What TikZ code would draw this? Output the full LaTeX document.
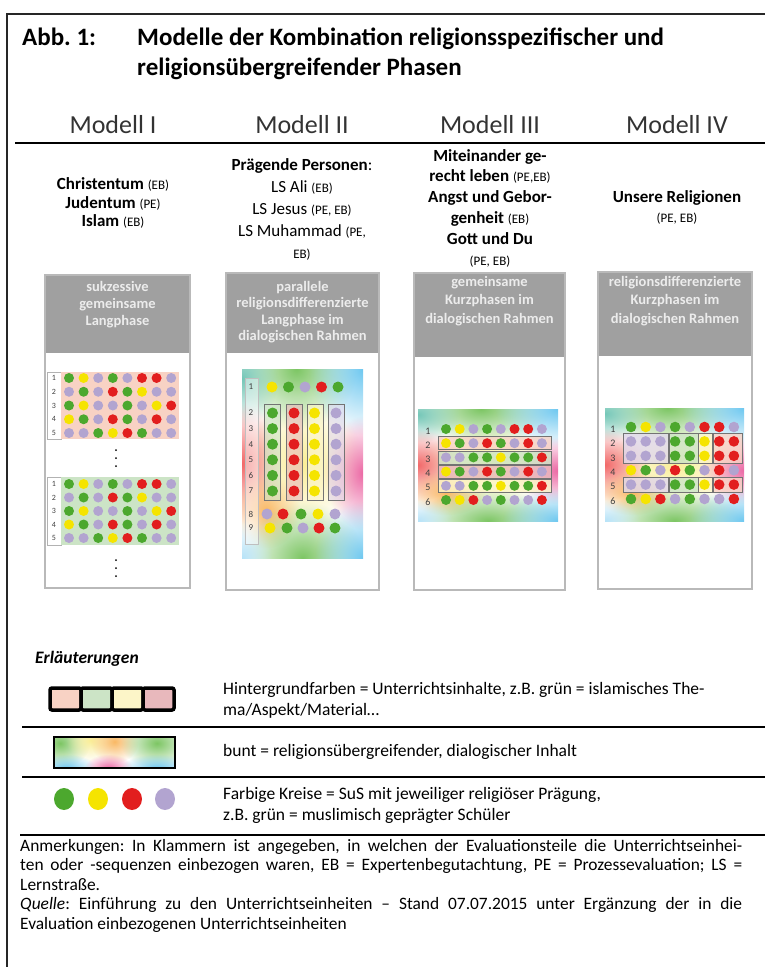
\documentclass[tikz,border=0pt]{standalone}
\usepackage{fontspec}
\setmainfont{Carlito}
\usetikzlibrary{positioning,fadings}

\definecolor{kG}{RGB}{76,168,46}
\definecolor{kY}{RGB}{245,228,0}
\definecolor{kR}{RGB}{226,30,30}
\definecolor{kP}{RGB}{178,164,208}
\definecolor{kopf}{RGB}{160,160,160}
\definecolor{kopfschrift}{RGB}{236,236,236}
\definecolor{rahmen}{RGB}{185,185,185}
\definecolor{hgrosa}{RGB}{248,210,196}
\definecolor{hggruen}{RGB}{204,228,198}
\definecolor{hggelb}{RGB}{252,245,200}
\definecolor{hgrot}{RGB}{232,184,188}
\definecolor{hglila}{RGB}{224,216,236}
\definecolor{bcyan}{RGB}{110,200,240}
\definecolor{bgreen}{RGB}{125,198,100}
\definecolor{bred}{RGB}{242,105,105}
\definecolor{bpink}{RGB}{236,105,165}
\definecolor{borange}{RGB}{250,185,100}
\definecolor{byellow}{RGB}{250,238,150}

\tikzfading[name=weich, inner color=transparent!0, outer color=transparent!100]

% Farbpunkte zeilenweise
\newcommand{\punktraster}[6]{%
  \foreach [count=\zeile] \reihe in {#6} {
    \foreach [count=\spalte] \farbe in \reihe {
      \fill[fill=k\farbe] ({#1+(\spalte-1)*#3},{#2+(\zeile-1)*#4}) circle (#5);
    }
  }%
}

% bunter Hintergrund (hochkant)
\newcommand{\buntfeld}[4]{%
  \begin{scope}
    \clip (#1,#2) rectangle (#3,#4);
    \fill[white] (#1,#2) rectangle (#3,#4);
    \pgfmathsetmacro{\bw}{#3-#1}
    \pgfmathsetmacro{\bh}{#4-#2}
    \begin{scope}[shift={(#1,#2)}, xscale=\bw, yscale=\bh]
      \fill[byellow, path fading=weich] (0.5,0.5) ellipse (0.5 and 0.35);
      \fill[bgreen, path fading=weich] (0.45,0) ellipse (0.5 and 0.32);
      \fill[bcyan, path fading=weich] (1,0) ellipse (0.45 and 0.35);
      \fill[bcyan!60!bgreen, path fading=weich] (0,0.05) ellipse (0.3 and 0.25);
      \fill[bred, path fading=weich] (0,0.5) ellipse (0.32 and 0.32);
      \fill[bpink, path fading=weich] (1,0.55) ellipse (0.32 and 0.3);
      \fill[borange, path fading=weich] (0.2,0.75) ellipse (0.28 and 0.2);
      \fill[bgreen, path fading=weich] (0.5,1) ellipse (0.5 and 0.3);
      \fill[bcyan, path fading=weich] (1,1) ellipse (0.4 and 0.3);
      \fill[bcyan!50, path fading=weich] (0,1) ellipse (0.25 and 0.2);
    \end{scope}
  \end{scope}%
}

% bunter Streifen (Legende)
\newcommand{\buntstreifen}[4]{%
  \begin{scope}
    \clip (#1,#2) rectangle (#3,#4);
    \fill[white] (#1,#2) rectangle (#3,#4);
    \pgfmathsetmacro{\bw}{#3-#1}
    \pgfmathsetmacro{\bh}{#4-#2}
    \begin{scope}[shift={(#1,#2)}, xscale=\bw, yscale=\bh]
      \fill[bgreen, path fading=weich] (0.05,0.2) ellipse (0.25 and 0.8);
      \fill[byellow, path fading=weich] (0.3,0.1) ellipse (0.2 and 0.7);
      \fill[borange, path fading=weich] (0.5,0.15) ellipse (0.2 and 0.7);
      \fill[bgreen, path fading=weich] (0.85,0.2) ellipse (0.3 and 0.8);
      \fill[bcyan, path fading=weich] (0.1,1) ellipse (0.25 and 0.45);
      \fill[bpink, path fading=weich] (0.45,1) ellipse (0.2 and 0.45);
      \fill[bcyan, path fading=weich] (0.85,1) ellipse (0.3 and 0.45);
    \end{scope}
  \end{scope}%
}

\newcommand{\klein}[1]{{\fontsize{13}{13}\selectfont\mdseries #1}}

\begin{document}
\frenchspacing
\begin{tikzpicture}[x=1pt, y=-1pt,
    titel/.style={font=\fontsize{25}{30}\selectfont\bfseries, inner sep=0, anchor=base west},
    modell/.style={font=\fontsize{26}{30}\selectfont, text=black!80, inner sep=0},
    modtext/.style={align=center, inner sep=0},
    panel/.style={draw=rahmen, line width=1.5},
    kopftext/.style={align=center, text=kopfschrift, font=\fontsize{14.5}{17}\selectfont\bfseries, inner sep=0, anchor=north},
    nummer/.style={font=\fontsize{8}{8}\selectfont, text=black!75, inner sep=0},
    kasten/.style={draw=black!55, line width=0.8},
    legtext/.style={align=left, font=\fontsize{17.5}{21}\selectfont, inner sep=0, anchor=west},
    trenn/.style={line width=1.2}
]
    \useasboundingbox (0,0) rectangle (765,967);

    % Rahmen
    \draw[line width=1.5, black!85] (7,967) -- (7,14) -- (765,14);

    % Titel
    \node[titel] (abb) at (22,45) {Abb. 1:};
    \node[titel] (titel1) at (137,45) {Modelle der Kombination religionsspezifischer und};
    \node[titel] (titel2) at (137,75) {religionsübergreifender Phasen};

    % Spaltenköpfe
    \node[modell] (mI) at (113,125) {Modell I};
    \node[modell] (mII) at (302,125) {Modell II};
    \node[modell] (mIII) at (490,125) {Modell III};
    \node[modell] (mIV) at (677,125) {Modell IV};
    \draw[line width=1.5] (15,143) -- (765,143);

    % Unterrichtseinheiten
    \node[modtext, font=\fontsize{17}{18.5}\selectfont] (txtI) at (113,203)
        {\textbf{Christentum} \klein{(EB)}\\\textbf{Judentum} \klein{(PE)}\\\textbf{Islam} \klein{(EB)}};
    \node[modtext, font=\fontsize{17}{22}\selectfont] (txtII) at (302,209)
        {\textbf{Prägende Personen}:\\LS Ali \klein{(EB)}\\LS Jesus \klein{(PE, EB)}\\LS Muhammad \klein{(PE,}\\\klein{EB)}};
    \node[modtext, font=\fontsize{17}{20.8}\selectfont] (txtIII) at (490,208)
        {\textbf{Miteinander ge-}\\\textbf{recht leben} \klein{(PE,EB)}\\\textbf{Angst und Gebor-}\\\textbf{genheit} \klein{(EB)}\\\textbf{Gott und Du}\\\klein{(PE, EB)}};
    \node[modtext, font=\fontsize{17}{20}\selectfont] (txtIV) at (677,207)
        {\textbf{Unsere Religionen}\\\klein{(PE, EB)}};

    % Modell I
    \fill[kopf] (45,275) rectangle (190,353);
    \draw[panel] (45,275) rectangle (190,588);
    \node[kopftext] (kI) at (117.5,281) {sukzessive\\gemeinsame\\Langphase};
    \draw[black!30, line width=0.5] (47,372) rectangle (61,439);
    \fill[hgrosa] (61,372) rectangle (179,439);
    \punktraster{69}{378}{14.6}{13.75}{5}{{G,Y,P,G,P,R,R,P},{P,G,P,R,G,Y,P,P},{G,Y,P,P,G,P,Y,R},{Y,G,P,R,G,P,R,P},{P,P,G,Y,R,G,P,P}}
    \foreach \z in {1,...,5}
        \node[nummer] at (54,{378+(\z-1)*13.75}) {\z};
    \foreach \y in {450,458,466}
        \fill (116,\y) circle (1);
    \draw[black!30, line width=0.5] (47,477) rectangle (61,545);
    \fill[hggruen] (61,477) rectangle (179,545);
    \punktraster{69}{484}{14.6}{13.5}{5}{{G,Y,P,G,P,R,R,P},{P,G,P,R,G,Y,P,P},{G,Y,P,P,G,P,Y,R},{Y,G,P,R,G,P,R,P},{P,P,G,Y,R,G,P,P}}
    \foreach \z in {1,...,5}
        \node[nummer] at (54,{484+(\z-1)*13.5}) {\z};
    \foreach \y in {560,568,576}
        \fill (116,\y) circle (1);

    % Modell II
    \fill[kopf] (226,273) rectangle (379,353);
    \draw[panel] (226,273) rectangle (379,590);
    \node[kopftext, font=\fontsize{14.5}{16.5}\selectfont\bfseries] (kII) at (302.5,281) {parallele\\religionsdifferenzierte\\Langphase im\\dialogischen Rahmen};
    \buntfeld{242}{369}{363}{558}
    \draw[black!25, fill=white, fill opacity=0.45] (245,378) rectangle (258,544);
    \punktraster{272}{387}{16.5}{0}{5.5}{{Y,G,P,R,G}}
    \foreach \x/\f in {264/hggruen,286/hgrot,307/hggelb,328/hglila}
        \draw[kasten, fill=\f, fill opacity=0.6] (\x,404) rectangle ({\x+16.5},500);
    \foreach \x/\f in {272.5/G,294/R,314.5/Y,336/P}
        \foreach \z in {0,...,5}
            \fill[fill=k\f] (\x,{413+\z*15.6}) circle (5.5);
    \foreach \x/\f in {267/P,283/R,301/G,318/Y,335/P}
        \fill[fill=k\f] (\x,514) circle (5.5);
    \foreach \x/\f in {270/Y,287/G,303/P,319/R,335/G}
        \fill[fill=k\f] (\x,528) circle (5.5);
    \node[nummer, font=\fontsize{9}{9}\selectfont] at (251,387) {1};
    \foreach \z in {2,...,7}
        \node[nummer, font=\fontsize{9}{9}\selectfont] at (251,{413+(\z-2)*15.6}) {\z};
    \node[nummer, font=\fontsize{9}{9}\selectfont] at (251,514) {8};
    \node[nummer, font=\fontsize{9}{9}\selectfont] at (251,528) {9};

    % Modell III
    \fill[kopf] (414,273) rectangle (565,357);
    \draw[panel] (414,273) rectangle (565,590);
    \node[kopftext, font=\fontsize{14.5}{18.5}\selectfont\bfseries] (kIII) at (489.5,276) {gemeinsame\\Kurzphasen im\\dialogischen Rahmen};
    \buntfeld{418}{409}{558}{521}
    \foreach \z/\f in {2/hgrosa,3/hggruen,4/hgrot,5/hggelb}
        \draw[kasten, fill=\f, fill opacity=0.8] (438,{429+(\z-1)*14.2-6.5}) rectangle (551,{429+(\z-1)*14.2+6.5});
    \punktraster{446}{429}{13.7}{14.2}{5}{{G,Y,P,G,P,R,R,P},{Y,G,P,R,G,P,R,P},{P,P,G,G,Y,G,G,R},{Y,G,P,R,G,P,R,P},{P,P,G,G,Y,G,G,R},{G,Y,R,P,G,P,P,R}}
    \foreach \z in {1,...,6}
        \node[nummer, font=\fontsize{10}{10}\selectfont] at (428,{431+(\z-1)*14.2}) {\z};

    % Modell IV
    \fill[kopf] (598,272) rectangle (752,356);
    \draw[panel] (598,272) rectangle (752,589);
    \node[kopftext, font=\fontsize{14.5}{18.5}\selectfont\bfseries] (kIV) at (675,276) {religionsdifferenzierte\\Kurzphasen im\\dialogischen Rahmen};
    \buntfeld{605}{408}{744}{521}
    \foreach \a/\b/\f in {623/668/hglila,669/698/hggruen,698.5/712/hggelb,713/742/hgrosa} {
        \draw[kasten, fill=\f, fill opacity=0.8] (\a,433) rectangle (\b,463);
        \draw[kasten, fill=\f, fill opacity=0.8] (\a,477) rectangle (\b,492);
    }
    \punktraster{631}{427}{14.7}{14.4}{5.3}{{G,Y,P,G,P,R,R,P},{P,P,P,G,G,Y,R,R},{P,P,P,G,G,Y,R,R},{Y,G,P,R,G,P,R,P},{P,P,P,G,G,Y,R,R},{G,Y,R,P,G,P,P,R}}
    \foreach \z in {1,...,6}
        \node[nummer, font=\fontsize{10}{10}\selectfont] at (613,{429+(\z-1)*14.4}) {\z};

    % Erläuterungen
    \node[font=\fontsize{17.5}{20}\selectfont\bfseries\itshape, inner sep=0, anchor=west] (erl) at (35,659) {Erläuterungen};
    \foreach \a/\f in {50/hgrosa,81/hggruen,112/hggelb,143/hgrot}
        \draw[line width=3.5, rounded corners=2, fill=\f] (\a,688) rectangle ({\a+31},710);
    \node[legtext] (lhg) at (223,700) {Hintergrundfarben = Unterrichtsinhalte, z.B. grün = islamisches The-\\ma/Aspekt/Material…};
    \draw[trenn] (22,727) -- (765,727);
    \buntstreifen{54}{737}{175}{768}
    \draw[line width=2.5] (54,737) rectangle (175,768);
    \node[legtext] (lbunt) at (223,752) {bunt = religionsübergreifender, dialogischer Inhalt};
    \draw[trenn] (22,777) -- (765,777);
    \foreach \x/\f in {64/G,98/Y,132/R,165/P}
        \fill[fill=k\f] (\x,799) ellipse (10 and 11);
    \node[legtext] (lkreis) at (223,805) {Farbige Kreise = SuS mit jeweiliger religiöser Prägung,\\z.B. grün = muslimisch geprägter Schüler};
    \draw[line width=2.5] (20,835) -- (765,835);

    % Anmerkungen
    \node[anchor=north west, inner sep=0, text width=722, align=justify, font=\fontsize{17.4}{19.5}\selectfont] (anm) at (20,839)
        {\frenchspacing Anmerkungen: In Klammern ist angegeben, in welchen der Evaluationsteile die Unterrichtseinhei-\linebreak ten oder -sequenzen einbezogen waren, EB = Expertenbegutachtung, PE = Prozessevaluation; LS =\linebreak Lernstraße.\\\textit{Quelle}: Einführung zu den Unterrichtseinheiten – Stand 07.07.2015 unter Ergänzung der in die\linebreak Evaluation einbezogenen Unterrichtseinheiten};
\end{tikzpicture}
\end{document}
